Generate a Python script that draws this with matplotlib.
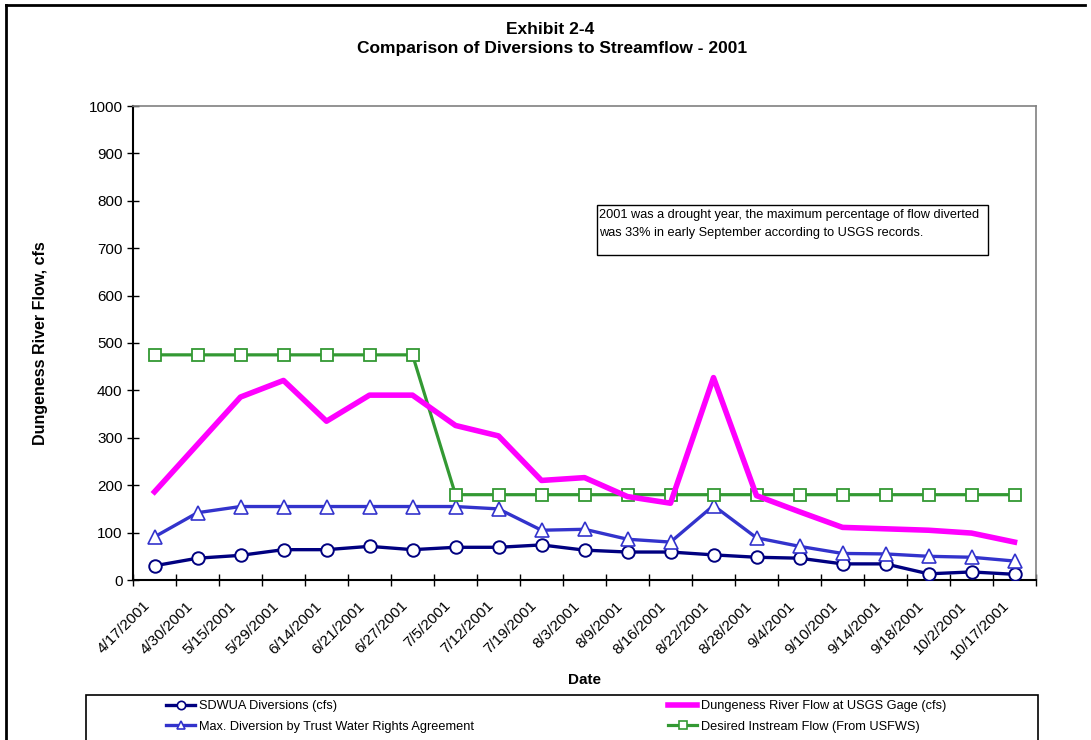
import matplotlib
matplotlib.use("Agg")
import matplotlib.pyplot as plt
from matplotlib.lines import Line2D
from matplotlib.patches import Rectangle
from matplotlib.transforms import ScaledTranslation

plt.rcParams['font.family'] = ['Liberation Sans', 'DejaVu Sans']

# ---- data -------------------------------------------------------------
dates = ["4/17/2001", "4/30/2001", "5/15/2001", "5/29/2001", "6/14/2001",
         "6/21/2001", "6/27/2001", "7/5/2001", "7/12/2001", "7/19/2001",
         "8/3/2001", "8/9/2001", "8/16/2001", "8/22/2001", "8/28/2001",
         "9/4/2001", "9/10/2001", "9/14/2001", "9/18/2001", "10/2/2001",
         "10/17/2001"]
sdwua_diversions = [30, 46, 52, 64, 64, 71, 64, 69, 69, 74, 63,
                    59, 59, 53, 48, 46, 34, 34, 13, 17, 12]
max_trust_diversion = [91, 142, 155, 155, 155, 155, 155, 155, 150, 105, 107,
                       86, 80, 157, 89, 71, 56, 55, 50, 48, 40]
river_flow = [186, 286, 386, 421, 335, 390, 390, 326, 304, 210, 216,
              176, 162, 427, 178, 144, 111, 108, 105, 99, 80]
instream_flow = [475, 475, 475, 475, 475, 475, 475, 180, 180, 180, 180,
                 180, 180, 180, 180, 180, 180, 180, 180, 180, 180]
y_ticks = [0, 100, 200, 300, 400, 500, 600, 700, 800, 900, 1000]

W, H = 1091, 740
fig = plt.figure(figsize=(W / 100, H / 100), dpi=100)


def fx(px):
    return px / W


def fy(py):
    return 1 - py / H


# plot area
ax = fig.add_axes([fx(133), fy(580), fx(1036) - fx(133), fy(106) - fy(580)])
x = list(range(len(dates)))

ax.plot(x, sdwua_diversions, color='#000080', lw=2.4, marker='o', ms=9,
        mfc='white', mec='#000080', mew=1.4, zorder=3,
        label='SDWUA Diversions (cfs)')
ax.plot(x, max_trust_diversion, color='#3333CC', lw=2.4, marker='^', ms=9.5,
        mfc='white', mec='#3333CC', mew=1.2, zorder=3,
        label='Max. Diversion by Trust Water Rights Agreement')
ax.plot(x, instream_flow, color='#339933', lw=2.3, marker='s', ms=9,
        mfc='white', mec='#339933', mew=1.3, zorder=4,
        label='Desired Instream Flow (From USFWS)')
ax.plot(x, river_flow, color='#FF00FF', lw=4.0, zorder=5,
        label='Dungeness River Flow at USGS Gage (cfs)')

ax.set_xlim(-0.5, len(dates) - 0.5)
ax.set_ylim(0, 1000)
ax.set_yticks(y_ticks)
ax.set_yticklabels([str(v) for v in y_ticks], fontsize=11)
ax.tick_params(axis='y', direction='inout', length=9, width=1, pad=3)

ax.set_xticks(x)
ax.set_xticklabels(dates, fontsize=11, rotation=45, ha='right',
                   va='center', rotation_mode='anchor')
ax.tick_params(axis='x', which='major', length=0, pad=17)
shift = ScaledTranslation(-7 / 100, 0, fig.dpi_scale_trans)
for lbl in ax.get_xticklabels():
    lbl.set_transform(lbl.get_transform() + shift)
ax.set_xticks([i - 0.5 for i in range(len(dates) + 1)], minor=True)
ax.tick_params(axis='x', which='minor', direction='inout', length=9, width=1)

for side in ('left', 'bottom'):
    ax.spines[side].set_color('black')
    ax.spines[side].set_linewidth(1.5)
for side in ('top', 'right'):
    ax.spines[side].set_color('#808080')
    ax.spines[side].set_linewidth(1.2)

ax.set_ylabel('Dungeness River Flow, cfs', fontsize=11.5, fontweight='bold')
ax.yaxis.set_label_coords((48 - 133) / 903, 0.5)

fig.text(fx(585), fy(680), 'Date', fontsize=11, fontweight='bold',
         ha='center', va='center')

# titles
fig.text(fx(550), fy(29), 'Exhibit 2-4', fontsize=12.5, fontweight='bold',
         ha='center', va='center')
fig.text(fx(552), fy(48), 'Comparison of Diversions to Streamflow - 2001',
         fontsize=12.5, fontweight='bold', ha='center', va='center')

# note box
fig.patches.append(Rectangle((fx(597), fy(255)), fx(988) - fx(597),
                             fy(205) - fy(255), transform=fig.transFigure,
                             facecolor='white', edgecolor='black', lw=1.0,
                             zorder=6))
fig.text(fx(599), fy(215),
         '2001 was a drought year, the maximum percentage of flow diverted',
         fontsize=9.2, ha='left', va='center', zorder=7)
fig.text(fx(599), fy(233),
         'was 33% in early September according to USGS records.',
         fontsize=9.2, ha='left', va='center', zorder=7)

# legend
fig.patches.append(Rectangle((fx(86), fy(760)), fx(1038) - fx(86),
                             fy(695) - fy(760), transform=fig.transFigure,
                             facecolor='white', edgecolor='black', lw=1.2,
                             zorder=1))
handles, labels = ax.get_legend_handles_labels()
by_label = dict(zip(labels, handles))
col1 = ['SDWUA Diversions (cfs)',
        'Max. Diversion by Trust Water Rights Agreement']
col2 = ['Dungeness River Flow at USGS Gage (cfs)',
        'Desired Instream Flow (From USFWS)']
for cols, xpos in ((col1, 166), (col2, 668)):
    hs = []
    for lab in cols:
        h = by_label[lab]
        hs.append(Line2D([], [], color=h.get_color(), lw=h.get_linewidth(),
                         marker=h.get_marker(), ms=6, mfc='white',
                         mec=h.get_color(), mew=1.2))
    fig.legend(hs, cols, loc='upper left',
               bbox_to_anchor=(fx(xpos), fy(700)), frameon=False,
               fontsize=9.2, borderpad=0, borderaxespad=0, handlelength=2.3,
               handletextpad=0.25, labelspacing=0.7, markerscale=1)

# outer chart frame
fig.add_artist(Line2D([fx(6), fx(6)], [fy(5), fy(745)], color='black', lw=2,
                      transform=fig.transFigure))
fig.add_artist(Line2D([fx(6), fx(1085)], [fy(5), fy(5)], color='black', lw=2,
                      transform=fig.transFigure))

fig.savefig('out.png', dpi=100)
